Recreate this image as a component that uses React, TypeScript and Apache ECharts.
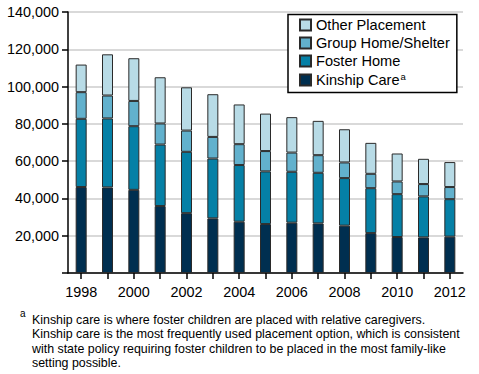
import React, { useEffect, useRef } from "react";
import * as echarts from "echarts";

const years = ["1998","1999","2000","2001","2002","2003","2004","2005","2006","2007","2008","2009","2010","2011","2012"];
const kinship = [46100, 45900, 44600, 35900, 32100, 29300, 27500, 26250, 27000, 26600, 25400, 21400, 19300, 19100, 19500];
const foster = [36600, 37000, 34150, 33000, 32900, 32100, 30400, 28250, 27300, 27150, 25500, 24100, 23000, 22000, 20100];
const group = [14300, 12300, 13550, 11300, 11400, 11600, 11200, 10900, 10300, 9450, 8400, 7700, 6800, 6600, 6500];
const other = [14800, 22100, 22900, 24800, 23200, 22900, 21300, 20100, 19000, 18400, 17800, 16600, 15000, 13550, 13400];

const names = ["Kinship Care", "Foster Home", "Group Home/Shelter", "Other Placement"];
const colors = ["#002f50", "#0580a6", "#62b1cd", "#b8dbe6"];
const footnoteLines = [
  "Kinship care is where foster children are placed with relative caregivers.",
  "Kinship care is the most frequently used placement option, which is consistent",
  "with state policy requiring foster children to be placed in the most family-like",
  "setting possible.",
];

const FONT = "'Liberation Sans', Arial, Helvetica, sans-serif";

export default function App() {
  const ref = useRef<HTMLDivElement>(null);
  useEffect(() => {
    if (!ref.current) return;
    const chart = echarts.init(ref.current, null, { renderer: "svg" });
    const data = [kinship, foster, group, other];
    chart.setOption({
      animation: false,
      backgroundColor: "#ffffff",
      textStyle: { fontFamily: FONT },
      grid: { left: 68, top: 12, width: 395, height: 261, containLabel: false },
      legend: {
        orient: "vertical",
        left: 288,
        top: 14.5,
        data: ["Other Placement", "Group Home/Shelter", "Foster Home", "Kinship Care"],
        backgroundColor: "#ffffff",
        borderColor: "#000000",
        borderWidth: 1.5,
        borderRadius: 0,
        padding: [3, 7, 5, 11],
        itemGap: 3,
        itemWidth: 11,
        itemHeight: 11,
        icon: "rect",
        textStyle: {
          fontFamily: FONT,
          fontSize: 14.6,
          color: "#000",
          padding: [0, 0, 0, 0],
          rich: {
            n: { fontFamily: FONT, fontSize: 14.6, color: "#000" },
            s: { fontFamily: FONT, fontSize: 9.5, color: "#000", verticalAlign: "top", padding: [0, 0, 7, 1] },
          },
        },
        formatter: (name: string) => (name === "Kinship Care" ? "{n|Kinship Care}{s|a}" : "{n|" + name + "}"),
      },
      xAxis: {
        type: "category",
        data: years,
        boundaryGap: true,
        axisLine: { show: true, lineStyle: { color: "#000", width: 1.5 } },
        axisTick: { show: true, alignWithLabel: true, interval: 0, length: 6, lineStyle: { color: "#000", width: 1.5 } },
        axisLabel: {
          interval: 1,
          fontFamily: FONT,
          fontSize: 14.4,
          color: "#000",
          margin: 12,
        },
        splitLine: { show: false },
      },
      yAxis: {
        type: "value",
        min: 0,
        max: 140000,
        interval: 20000,
        axisLine: { show: true, lineStyle: { color: "#000", width: 1.5 } },
        axisTick: { show: true, length: 6, lineStyle: { color: "#000", width: 1.5 } },
        axisLabel: {
          fontFamily: FONT,
          fontSize: 14.4,
          color: "#000",
          margin: 9,
          formatter: (v: number) => (v === 0 ? "" : v.toLocaleString("en-US")),
        },
        splitLine: { show: true, lineStyle: { color: "#cccccc", width: 1.5 } },
      },
      series: data.map((d, i) => ({
        name: names[i],
        type: "bar",
        stack: "total",
        data: d,
        barWidth: 11,
        itemStyle: { color: colors[i], borderColor: "#2a2a2a", borderWidth: 1 },
      })),
      graphic: [
        {
          type: "text",
          left: 20,
          top: 308,
          style: { text: "a", fontFamily: FONT, fontSize: 10, fill: "#000" },
        },
        {
          type: "text",
          left: 32,
          top: 313,
          style: {
            text: footnoteLines.join("\n"),
            fontFamily: FONT,
            fontSize: 12.4,
            lineHeight: 14.2,
            fill: "#000",
          },
        },
      ],
    });
    return () => chart.dispose();
  }, []);
  return (
    <div
      ref={ref}
      style={{ position: "fixed", left: 0, top: 0, width: 479, height: 374, background: "#fff" }}
    />
  );
}
